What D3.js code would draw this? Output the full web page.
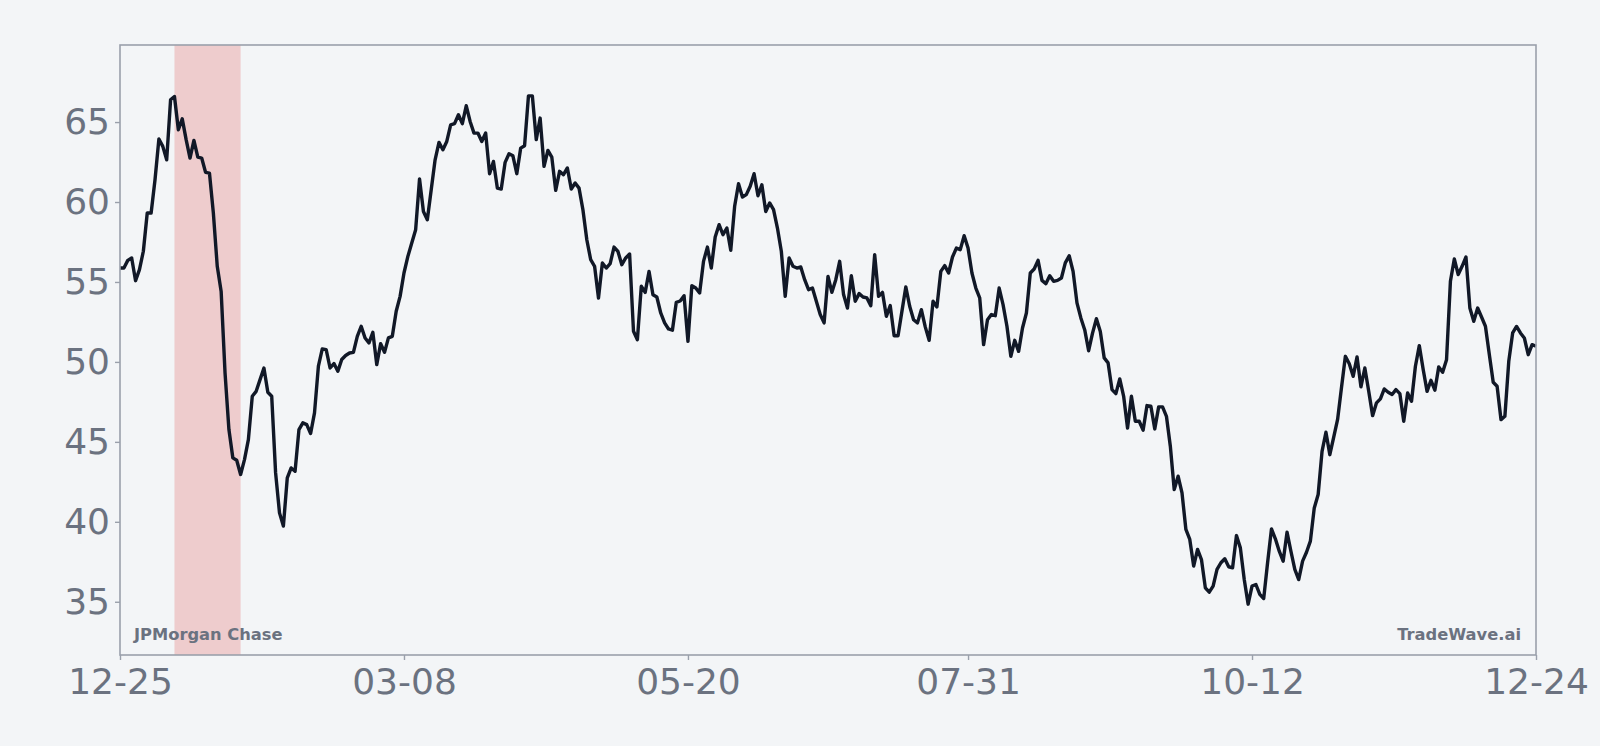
<!DOCTYPE html>
<html>
<head>
<meta charset="utf-8">
<script src="https://cdn.jsdelivr.net/npm/d3@7"></script>
<style>
    html, body { margin: 0; padding: 0; background: #f3f5f7; }
    svg { display: block; }
</style>
</head>
<body>
<div id="chart"></div>
<script>
'use strict';

// ##################################################
// #                                                #
// #  Data                                          #
// #                                                #
// ##################################################

// one close per calendar day, starting at 2022-12-25
let startDay = '2022-12-25';
let closes = [
    55.87, 55.87, 56.35, 56.50, 55.08, 55.77, 56.92, 59.31, 59.31, 61.39,
    63.94, 63.48, 62.64, 66.39, 66.60, 64.52, 65.20, 63.90, 62.75, 63.85,
    62.81, 62.75, 61.85, 61.81, 59.31, 55.98, 54.41, 49.31, 45.77, 44.00,
    43.85, 42.96, 43.89, 45.14, 47.85, 48.16, 48.89, 49.62, 48.10, 47.85,
    43.06, 40.56, 39.73, 42.75, 43.37, 43.16, 45.77, 46.19, 46.08, 45.52,
    46.81, 49.73, 50.81, 50.77, 49.62, 49.90, 49.42, 50.15, 50.40, 50.56,
    50.60, 51.60, 52.23, 51.50, 51.19, 51.85, 49.83, 51.14, 50.60, 51.50,
    51.60, 53.17, 54.10, 55.56, 56.60, 57.44, 58.27, 61.44, 59.41, 58.89,
    60.77, 62.64, 63.73, 63.27, 63.79, 64.83, 64.90, 65.46, 64.90, 66.02,
    65.04, 64.31, 64.31, 63.79, 64.31, 61.77, 62.54, 60.87, 60.81, 62.48,
    63.02, 62.89, 61.77, 63.37, 63.52, 66.64, 66.64, 63.90, 65.25, 62.23,
    63.23, 62.81, 60.73, 61.92, 61.71, 62.13, 60.81, 61.19, 60.87, 59.52,
    57.64, 56.39, 55.98, 54.00, 56.19, 55.87, 56.14, 57.18, 56.91, 56.08,
    56.50, 56.75, 51.92, 51.39, 54.73, 54.35, 55.66, 54.20, 54.06, 53.06,
    52.44, 52.06, 51.98, 53.73, 53.81, 54.14, 51.29, 54.77, 54.62, 54.31,
    56.29, 57.18, 55.87, 57.81, 58.58, 57.96, 58.37, 56.98, 59.73, 61.14,
    60.31, 60.46, 60.98, 61.77, 60.39, 61.08, 59.41, 59.94, 59.52, 58.37,
    56.92, 54.10, 56.50, 55.98, 55.87, 55.94, 55.14, 54.52, 54.62, 53.79,
    52.96, 52.44, 55.35, 54.35, 55.14, 56.29, 54.21, 53.37, 55.39, 53.79,
    54.27, 54.06, 54.00, 53.52, 56.71, 54.10, 54.35, 52.85, 53.52, 51.64,
    51.64, 53.16, 54.69, 53.48, 52.64, 52.44, 53.27, 52.19, 51.35, 53.79,
    53.44, 55.66, 56.02, 55.56, 56.56, 57.12, 57.02, 57.89, 57.12, 55.56,
    54.62, 54.00, 51.08, 52.64, 52.96, 52.89, 54.62, 53.58, 52.23, 50.35,
    51.35, 50.66, 52.12, 53.06, 55.56, 55.81, 56.35, 55.10, 54.89, 55.39,
    55.04, 55.10, 55.25, 56.19, 56.64, 55.66, 53.69, 52.75, 52.00, 50.70,
    51.80, 52.70, 51.90, 50.25, 49.94, 48.27, 48.02, 48.94, 47.85, 45.87,
    47.85, 46.29, 46.29, 45.73, 47.27, 47.23, 45.81, 47.19, 47.19, 46.60,
    44.73, 42.02, 42.85, 41.81, 39.52, 38.90, 37.23, 38.27, 37.64, 35.87,
    35.60, 35.98, 37.02, 37.44, 37.69, 37.19, 37.12, 39.14, 38.37, 36.39,
    34.85, 35.98, 36.08, 35.46, 35.20, 37.44, 39.56, 38.94, 38.16, 37.54,
    39.35, 38.16, 37.02, 36.39, 37.54, 38.10, 38.79, 40.87, 41.71, 44.40,
    45.60, 44.20, 45.30, 46.40, 48.40, 50.35, 49.89, 49.10, 50.31, 48.44,
    49.62, 48.16, 46.64, 47.44, 47.69, 48.31, 48.10, 47.96, 48.27, 48.02,
    46.29, 48.06, 47.54, 49.73, 51.02, 49.52, 48.16, 48.85, 48.23, 49.69,
    49.35, 50.14, 55.04, 56.44, 55.46, 55.98, 56.56, 53.37, 52.54, 53.37,
    52.81, 52.23, 50.46, 48.73, 48.48, 46.39, 46.60, 50.04, 51.81, 52.22,
    51.81, 51.50, 50.45, 51.08, 50.98
];

let xTickDays = ['2022-12-25', '2023-03-08', '2023-05-20', '2023-07-31', '2023-10-12', '2023-12-24'];
let yTicks = [35, 40, 45, 50, 55, 60, 65];
let highlight = ['2023-01-08', '2023-01-25'];
let leftNote = 'JPMorgan Chase';
let rightNote = 'TradeWave.ai';

// ##################################################
// #                                                #
// #  Chart                                         #
// #                                                #
// ##################################################

let width = 1600;
let height = 746;
let margin = {top: 45, right: 64, bottom: 91, left: 120};
let font = '"DejaVu Sans", sans-serif';
let grey = '#6b7280';
let frameColor = '#9aa0ab';

let parseDay = d3.utcParse('%Y-%m-%d');
let start = parseDay(startDay);
let series = closes.map((value, i) => ({date: d3.utcDay.offset(start, i), value: value}));

let lo = d3.min(closes);
let hi = d3.max(closes);
let pad = (hi - lo) * 0.1;

let x = d3.scaleUtc()
    .domain(d3.extent(series, d => d.date))
    .range([margin.left, width - margin.right]);
let y = d3.scaleLinear()
    .domain([lo - pad, hi + pad])
    .range([height - margin.bottom, margin.top]);

let svg = d3.select('#chart').append('svg')
    .attr('width', width)
    .attr('height', height)
    .style('background', '#f3f5f7');

svg.append('rect')
    .attr('x', x(parseDay(highlight[0])))
    .attr('y', margin.top)
    .attr('width', x(parseDay(highlight[1])) - x(parseDay(highlight[0])))
    .attr('height', height - margin.bottom - margin.top)
    .attr('fill', 'rgba(220,38,38,0.2)');

let line = d3.line()
    .x(d => x(d.date))
    .y(d => y(d.value));

svg.append('path')
    .datum(series)
    .attr('d', line)
    .attr('fill', 'none')
    .attr('stroke', '#111827')
    .attr('stroke-width', 3.4)
    .attr('stroke-linejoin', 'round');

svg.append('rect')
    .attr('x', margin.left)
    .attr('y', margin.top)
    .attr('width', width - margin.left - margin.right)
    .attr('height', height - margin.top - margin.bottom)
    .attr('fill', 'none')
    .attr('stroke', frameColor)
    .attr('stroke-width', 1.6);

let xAxis = svg.append('g')
    .attr('transform', `translate(0,${height - margin.bottom})`)
    .call(d3.axisBottom(x)
        .tickValues(xTickDays.map(parseDay))
        .tickFormat(d3.utcFormat('%m-%d'))
        .tickSize(5)
        .tickPadding(8));

let yAxis = svg.append('g')
    .attr('transform', `translate(${margin.left},0)`)
    .call(d3.axisLeft(y)
        .tickValues(yTicks)
        .tickSize(5)
        .tickPadding(5));

for (const axis of [xAxis, yAxis]) {
    axis.select('.domain').remove();
    axis.selectAll('.tick line').attr('stroke', frameColor).attr('stroke-width', 1.4);
    axis.selectAll('.tick text')
        .attr('fill', grey)
        .style('font-family', font)
        .style('font-size', '36px');
}

svg.append('text')
    .attr('x', margin.left + 14)
    .attr('y', height - margin.bottom - 15)
    .attr('fill', grey)
    .style('font-family', font)
    .style('font-weight', 'bold')
    .style('font-size', '16.3px')
    .text(leftNote);

svg.append('text')
    .attr('x', width - margin.right - 15)
    .attr('y', height - margin.bottom - 15)
    .attr('text-anchor', 'end')
    .attr('fill', grey)
    .style('font-family', font)
    .style('font-weight', 'bold')
    .style('font-size', '16.3px')
    .text(rightNote);
</script>
</body>
</html>
